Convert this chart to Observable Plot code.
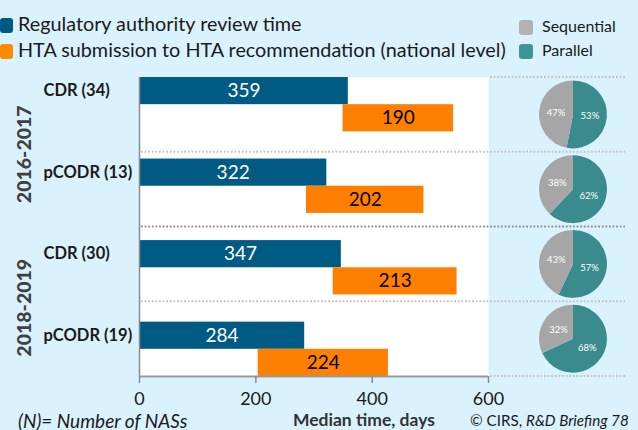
<!DOCTYPE html>
<html><head><meta charset="utf-8">
<script src="https://cdn.jsdelivr.net/npm/d3@7"></script>
<script src="https://cdn.jsdelivr.net/npm/@observablehq/plot@0.6"></script>
<style>
html,body{margin:0;padding:0;background:#daf2fd;}
#wrap{position:relative;width:638px;height:430px;overflow:hidden;background:#daf2fd;font-family:Lato,"Open Sans",sans-serif;color:#1a1a1a;}
#wrap svg{position:absolute;left:0;top:0;}
.t{position:absolute;white-space:nowrap;line-height:1;}
.sw{position:absolute;border-radius:3px;}
</style></head>
<body><div id="wrap"></div>
<script>
const categories = ["CDR (34)", "pCODR (13)", "CDR (30)", "pCODR (19)"];
const periods = ["2016-2017", "2018-2019"];
const regulatoryDays = [359, 322, 347, 284];
const htaStartDays = [350, 287, 333, 204];
const htaDays = [190, 202, 213, 224];
const parallelPct = [53, 62, 57, 68];
const sequentialPct = [47, 38, 43, 32];
const xTicks = [0, 200, 400, 600];
const seriesNames = ["Regulatory authority review time", "HTA submission to HTA recommendation (national level)"];
const pieNames = ["Sequential", "Parallel"];

const C = {bg:"#daf2fd", blue:"#005b84", orange:"#ff8000", teal:"#3a8b8e", gray:"#a6a6a6"};

// rows: each category uses 3 slots (regulatory bar, HTA bar, gap); last gap dropped
const nSlots = categories.length * 3 - 1;
const slotPerCat = nSlots / categories.length;
const bars = [];
categories.forEach((c, i) => {
  bars.push({cat:c, series:seriesNames[0], x1:0, x2:regulatoryDays[i], y1:3*i, y2:3*i+1, label:regulatoryDays[i]});
  bars.push({cat:c, series:seriesNames[1], x1:htaStartDays[i], x2:htaStartDays[i]+htaDays[i], y1:3*i+1, y2:3*i+2, label:htaDays[i]});
});
const catLabels = categories.map((c, i) => ({cat:c, y:3*i+0.5}));
const periodLabels = periods.map((p, k) => ({p, y:slotPerCat*(2*k+1)}));

function separators(index, scales, values, dims) {
  const g = d3.create("svg:g");
  const xl = dims.marginLeft, xr = dims.width - dims.marginRight, xe = dims.width - 13;
  for (let k = 0; k <= categories.length; k++) {
    const y = scales.y(slotPerCat * k);
    const inner = k > 0 && k < categories.length;
    const major = k === categories.length / 2;
    g.append("line").attr("x1", inner ? xl + 2 : xr + 2).attr("x2", xe)
      .attr("y1", y).attr("y2", y)
      .attr("stroke", major ? "#8f8f8f" : "#c4c4c4")
      .attr("stroke-width", major ? 2.2 : 1.8)
      .attr("stroke-dasharray", "1.8,1.8");
  }
  return g.node();
}

function pies(index, scales, values, dims) {
  const g = d3.create("svg:g");
  const r = 34, cx = dims.width - 65;
  const arc = d3.arc().innerRadius(0).outerRadius(r);
  const pie = d3.pie().sort(null).value(d => d.v);
  categories.forEach((c, i) => {
    const cy = scales.y(slotPerCat * (i + 0.5));
    const gi = g.append("g").attr("transform", `translate(${cx},${cy})`);
    const arcs = pie([{k:"Parallel", v:parallelPct[i]}, {k:"Sequential", v:sequentialPct[i]}]);
    gi.selectAll("path").data(arcs).join("path")
      .attr("d", arc).attr("fill", d => d.data.k === "Parallel" ? C.teal : C.gray);
    gi.selectAll("text").data(arcs).join("text")
      .attr("transform", d => `translate(${arc.centroid(d)})`)
      .attr("text-anchor", "middle").attr("dy", "0.35em")
      .attr("fill", "white").attr("font-size", 9.5)
      .attr("font-family", "Lato, sans-serif")
      .text(d => d.data.v + "%");
  });
  return g.node();
}

const chart = Plot.plot({
  width: 638, height: 430,
  marginTop: 77, marginBottom: 54, marginLeft: 139, marginRight: 150,
  style: {background: "transparent", fontFamily: "Lato, sans-serif", overflow: "visible"},
  x: {domain: [0, 600]},
  y: {domain: [0, nSlots], reverse: true, axis: null},
  color: {domain: seriesNames, range: [C.blue, C.orange]},
  marks: [
    Plot.frame({fill: "white", stroke: null}),
    separators,
    Plot.rect(bars, {x1: "x1", x2: "x2", y1: "y1", y2: "y2", fill: "series"}),
    Plot.text(bars, {x: d => (d.x1 + d.x2) / 2, y: d => (d.y1 + d.y2) / 2, text: "label",
      fill: d => d.series === seriesNames[0] ? "white" : "black", fontSize: 19}),
    Plot.ruleX([0], {stroke: "#8a8a8a", strokeWidth: 1.5}),
    Plot.ruleY([nSlots], {stroke: "#9a9a9a", strokeWidth: 2}),
    Plot.axisX({ticks: xTicks, tickSize: 7, tickPadding: 9, fontSize: 18, stroke: "#8a8a8a", strokeWidth: 1.5, label: null, fill: "#1a1a1a"}),
    Plot.text(catLabels, {x: 0, y: "y", text: "cat", textAnchor: "start", dx: -96, fontSize: 16.5, fontWeight: "bold", fill: "#1a1a1a"}),
    Plot.text(periodLabels.slice(0, 1), {x: 0, y: "y", text: "p", rotate: -90, dx: -115, dy: 2, fontSize: 19.5, fontWeight: 900, fill: "#404040"}),
    Plot.text(periodLabels.slice(1), {x: 0, y: "y", text: "p", rotate: -90, dx: -115, dy: 6, fontSize: 19.5, fontWeight: 900, fill: "#404040"}),
    pies
  ]
});

const wrap = document.getElementById("wrap");
wrap.appendChild(chart);

function addText(txt, css, html) {
  const d = document.createElement("div");
  d.className = "t";
  if (html) d.innerHTML = txt; else d.textContent = txt;
  Object.assign(d.style, css);
  wrap.appendChild(d);
  return d;
}
function addSwatch(color, css) {
  const d = document.createElement("div");
  d.className = "sw";
  d.style.background = color;
  Object.assign(d.style, css);
  wrap.appendChild(d);
}
// left legend
addSwatch(C.blue, {left:"0px", top:"18px", width:"13px", height:"15px"});
addSwatch("#ff8a00", {left:"0px", top:"44px", width:"13px", height:"15px"});
addText(seriesNames[0], {left:"18px", top:"14px", fontSize:"19.8px"});
addText(seriesNames[1], {left:"18px", top:"40px", fontSize:"19.8px"});
// right legend
addSwatch("#b2b2b2", {left:"519px", top:"20px", width:"14px", height:"15px"});
addSwatch("#3d9598", {left:"519px", top:"44px", width:"14px", height:"15px"});
addText(pieNames[0], {left:"542px", top:"18px", fontSize:"16px"});
addText(pieNames[1], {left:"542px", top:"42px", fontSize:"16px"});
// footer
addText("(N)= Number of NASs", {left:"18px", top:"410.5px", fontSize:"19px", fontStyle:"italic"});
addText("Median time, days", {left:"293px", top:"411px", fontSize:"17.5px", fontWeight:"bold", color:"#333"});
addText("© CIRS, <i>R&amp;D Briefing 78</i>", {left:"470px", top:"413px", fontSize:"15.2px"}, true);
</script></body></html>
